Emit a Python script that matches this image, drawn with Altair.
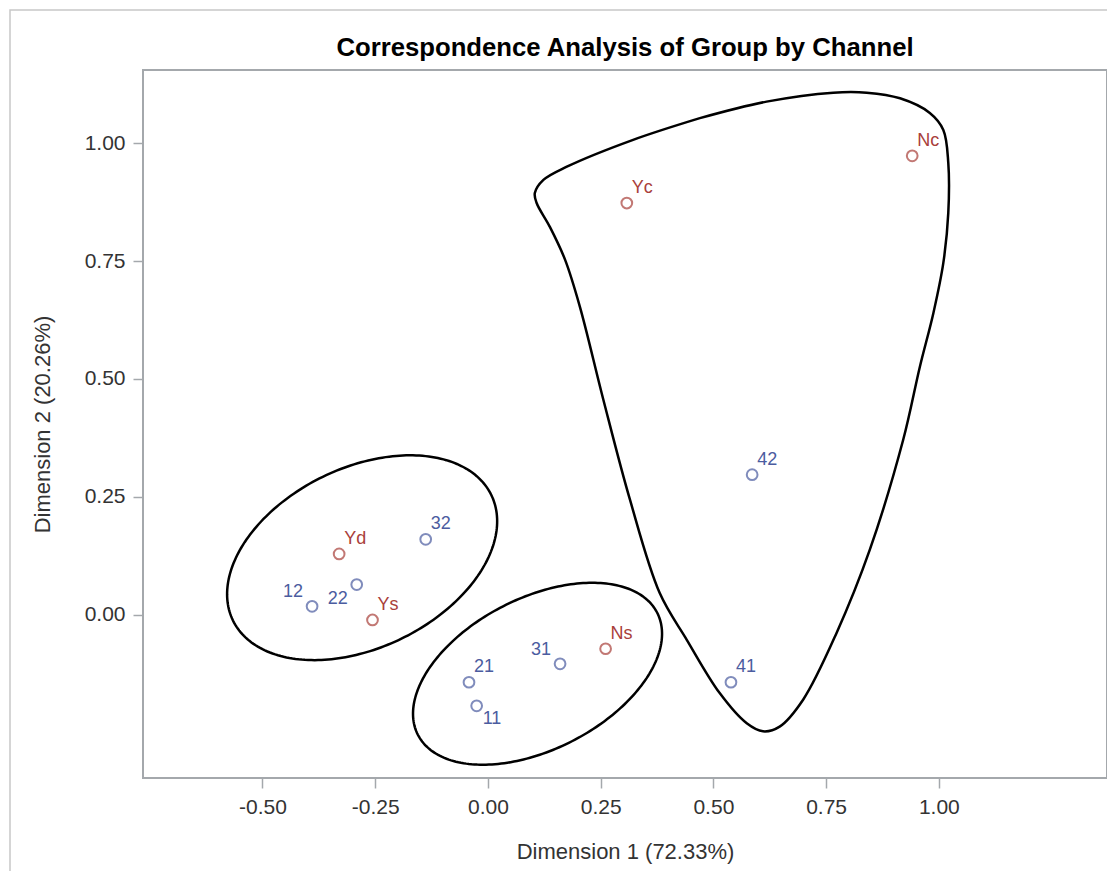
import altair as alt
import pandas as pd
import numpy as np

# ---- data ----
LABELS = ["Nc", "Yc", "Ns", "Yd", "Ys", "11", "12", "21", "22", "31", "32", "41", "42"]
DIM1 = [0.941, 0.308, 0.261, -0.330, -0.256, -0.025, -0.390, -0.042, -0.291, 0.160, -0.138, 0.539, 0.586]
DIM2 = [0.973, 0.873, -0.072, 0.129, -0.011, -0.193, 0.018, -0.143, 0.064, -0.104, 0.160, -0.143, 0.297]
KIND = ["Channel"] * 5 + ["Group"] * 8
LABEL_POS = ["ur", "ur", "ur", "ur", "ur", "br", "ul", "ur", "bl", "ul", "ur", "ur", "ur"]

X_DOMAIN = [-0.765, 1.373]
Y_DOMAIN = [-0.346, 1.155]
X_TICKS = [-0.5, -0.25, 0.0, 0.25, 0.5, 0.75, 1.0]
Y_TICKS = [0.0, 0.25, 0.5, 0.75, 1.0]

BLUE = "#4b5ca0"
RED = "#a9403a"

# ---- annotation shapes (data units) ----
ELLIPSE_NAMES = ["left", "middle"]
ELLIPSE_CENTER_X = [-0.279, 0.110]
ELLIPSE_CENTER_Y = [0.121, -0.125]
ELLIPSE_U = [(0.2865, 0.1330), (0.2654, 0.1293)]
ELLIPSE_V = [(-0.0872, 0.1716), (-0.0763, 0.1431)]

# free-hand outline around the right-hand group, traced clockwise from the top edge
OUTLINE_X = [0.470, 0.618, 0.766, 0.840, 0.914, 0.980, 1.010,
             1.021, 1.021, 1.010, 0.988, 0.958, 0.921, 0.847, 0.773, 0.699, 0.647, 0.610,
             0.574, 0.514, 0.441, 0.381, 0.315, 0.256, 0.204, 0.171, 0.137, 0.108,
             0.104, 0.123, 0.175, 0.322, 0.470]
OUTLINE_Y = [1.053, 1.088, 1.107, 1.107, 1.095, 1.064, 1.028,
             0.958, 0.852, 0.746, 0.640, 0.526, 0.371, 0.138, -0.039, -0.180, -0.237, -0.247,
             -0.230, -0.166, -0.053, 0.046, 0.244, 0.456, 0.653, 0.753, 0.823, 0.873,
             0.894, 0.922, 0.950, 1.007, 1.053]

points = pd.DataFrame({"label": LABELS, "dim1": DIM1, "dim2": DIM2,
                       "kind": KIND, "pos": LABEL_POS})

rows = []
t = np.linspace(0, 2 * np.pi, 241)
for name, cx, cy, u, v in zip(ELLIPSE_NAMES, ELLIPSE_CENTER_X, ELLIPSE_CENTER_Y, ELLIPSE_U, ELLIPSE_V):
    for i, tt in enumerate(t):
        rows.append({"shape": name, "i": i,
                     "x": cx + u[0] * np.cos(tt) + v[0] * np.sin(tt),
                     "y": cy + u[1] * np.cos(tt) + v[1] * np.sin(tt)})
ellipses = pd.DataFrame(rows)
outline = pd.DataFrame({"x": OUTLINE_X, "y": OUTLINE_Y, "i": list(range(len(OUTLINE_X)))})

xs = alt.Scale(domain=X_DOMAIN, nice=False, zero=False)
ys = alt.Scale(domain=Y_DOMAIN, nice=False, zero=False)
color = alt.Color("kind:N", scale=alt.Scale(domain=["Group", "Channel"], range=[BLUE, RED]), legend=None)

base = alt.Chart(points)

pts = base.mark_point(shape="circle", filled=False, size=115, strokeWidth=2).encode(
    x=alt.X("dim1:Q", scale=xs, title="Dimension 1 (72.33%)",
            axis=alt.Axis(values=X_TICKS, labelExpr="replace(format(datum.value, '.2f'), '\u2212', '-')",
                          titlePadding=24)),
    y=alt.Y("dim2:Q", scale=ys, title="Dimension 2 (20.26%)",
            axis=alt.Axis(values=Y_TICKS, format=".2f", titlePadding=30)),
    color=color,
)

def labels(pos, align, baseline, dx, dy):
    return base.transform_filter(alt.datum.pos == pos).mark_text(
        align=align, baseline=baseline, dx=dx, dy=dy, fontSize=18, font="Liberation Sans"
    ).encode(x=alt.X("dim1:Q", scale=xs), y=alt.Y("dim2:Q", scale=ys), text="label:N", color=color)

txt_ur = labels("ur", "left", "alphabetic", 5, -10)
txt_ul = labels("ul", "right", "alphabetic", -9, -9)
txt_bl = labels("bl", "right", "top", -9, 5)
txt_br = labels("br", "left", "top", 6, 4)

ell = alt.Chart(ellipses).mark_line(color="black", strokeWidth=2.5).encode(
    x=alt.X("x:Q", scale=xs), y=alt.Y("y:Q", scale=ys), detail="shape:N", order="i:Q")

blob = alt.Chart(outline).mark_line(color="black", strokeWidth=2.5, interpolate="catmull-rom").encode(
    x=alt.X("x:Q", scale=xs), y=alt.Y("y:Q", scale=ys), order="i:Q")

border = alt.Chart(alt.Data(values=[{"a": 1}])).mark_rect(
    fillOpacity=0, stroke="#c8c8c8", strokeWidth=1.5).encode(
    x=alt.value(-133), y=alt.value(-60), x2=alt.value(1400), y2=alt.value(1200))

chart = alt.layer(border, ell, blob, pts, txt_ur, txt_ul, txt_bl, txt_br).properties(
    width=964, height=708,
    title=alt.TitleParams("Correspondence Analysis of Group by Channel", font="Liberation Sans",
                          fontSize=25.7, fontWeight="bold", color="#000000", anchor="middle",
                          frame="group", offset=-52),
    padding={"left": 135, "top": 62, "right": 0, "bottom": 93},
    autosize=alt.AutoSizeParams(type="none"),
).configure_view(
    stroke="#a4a8ac", strokeWidth=2
).configure_axis(
    grid=False, domain=False, tickColor="#a4a8ac", tickSize=10, tickWidth=1.5,
    labelFont="Liberation Sans", labelFontSize=21, labelColor="#333333", labelPadding=8,
    titleFont="Liberation Sans", titleFontSize=22, titleFontWeight="normal", titleColor="#333333",
)

chart.save("out.html", embed_options={"renderer": "svg", "actions": False})
